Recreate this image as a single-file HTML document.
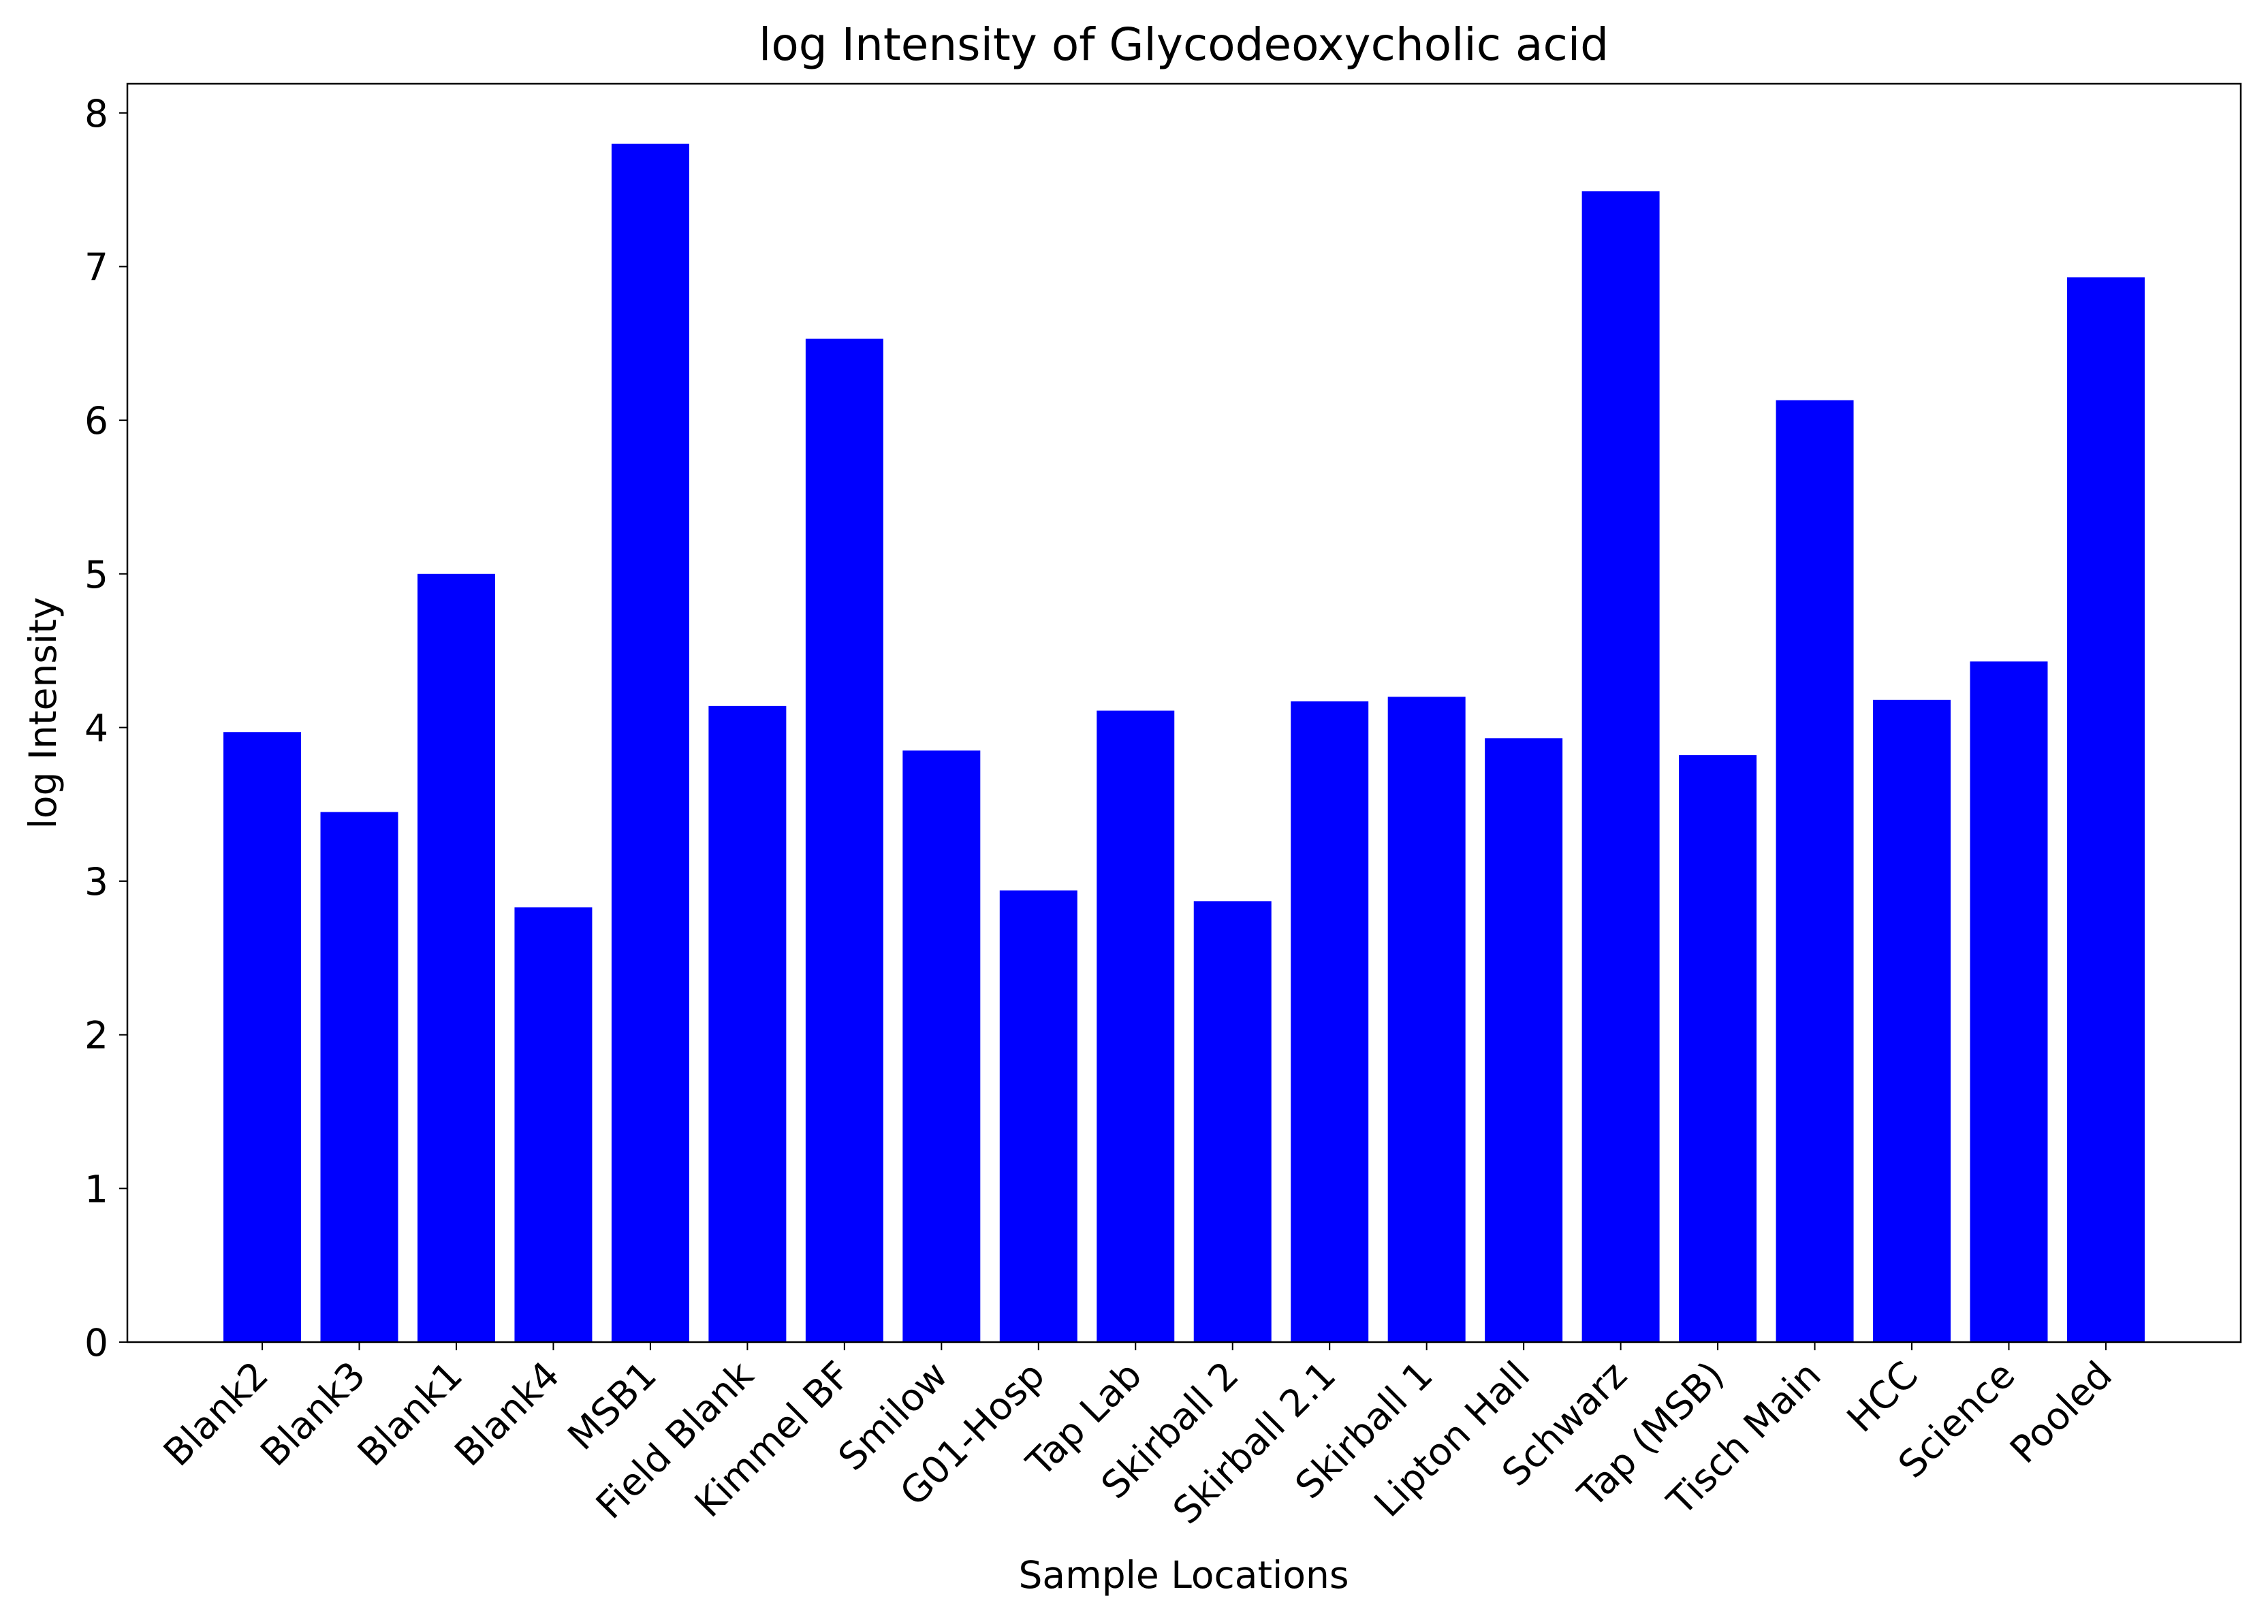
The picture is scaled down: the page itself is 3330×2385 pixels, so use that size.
<!DOCTYPE html>
<html><head><meta charset="utf-8"><style>body{margin:0;background:#fff}svg{display:block}text{font-family:"DejaVu Sans","Liberation Sans",sans-serif;fill:#000}</style></head>
<body>
<svg id="chart" width="3330" height="2385" viewBox="0 0 3330 2385" xmlns="http://www.w3.org/2000/svg">
<rect width="3330" height="2385" fill="#fff"/>
<g id="bars"></g>
<g id="axes"></g>
<text x="1738" y="88" font-size="66" text-anchor="middle">log Intensity of Glycodeoxycholic acid</text>
<text x="1738" y="2332" font-size="55" text-anchor="middle">Sample Locations</text>
<text x="0" y="0" font-size="55" text-anchor="middle" transform="translate(82,1047) rotate(-90)">log Intensity</text>
</svg>
<script>
const categories=["Blank2","Blank3","Blank1","Blank4","MSB1","Field Blank","Kimmel BF","Smilow","G01-Hosp","Tap Lab","Skirball 2","Skirball 2.1","Skirball 1","Lipton Hall","Schwarz","Tap (MSB)","Tisch Main","HCC","Science","Pooled"];
const values=[3.97,3.45,5.0,2.83,7.8,4.14,6.53,3.85,2.94,4.11,2.87,4.17,4.2,3.93,7.49,3.82,6.13,4.18,4.43,6.93];
const yTicks=[0,1,2,3,4,5,6,7,8];
const NS="http://www.w3.org/2000/svg";
const L=187,R=3290,T=123,B=1971;
const n=categories.length;
const xmin=-0.4-(n-0.2)*0.05, xmax=n-1+0.4+(n-0.2)*0.05;
const ymax=Math.max(...values)*1.05;
const xs=v=>L+(v-xmin)/(xmax-xmin)*(R-L);
const ys=v=>B-v/ymax*(B-T);
const bars=document.getElementById('bars'),axes=document.getElementById('axes');
function mk(tag,attrs,parent){const e=document.createElementNS(NS,tag);for(const k in attrs)e.setAttribute(k,attrs[k]);parent.appendChild(e);return e;}
values.forEach((v,i)=>{
  const r=mk('rect',{x:xs(i-0.4),y:ys(v),width:xs(i+0.4)-xs(i-0.4),height:B-ys(v),fill:'#0000ff'},bars);
  
  
});
const frame=mk('rect',{x:L,y:T,width:R-L,height:B-T,fill:'none',stroke:'#000','stroke-width':2.5},axes);


yTicks.forEach(t=>{
  const y=ys(t);
  const ln=mk('line',{x1:L-12,x2:L,y1:y,y2:y,stroke:'#000','stroke-width':2},axes);
  
  
  const tx=mk('text',{x:L-28,y:y+20,'font-size':55,'text-anchor':'end'},axes);
  tx.textContent=t;
  
  
});
categories.forEach((c,i)=>{
  const x=xs(i);
  const ln=mk('line',{x1:x,x2:x,y1:B,y2:B+12,stroke:'#000','stroke-width':2},axes);
  
  
  const tx=mk('text',{x:0,y:0,'font-size':55,'text-anchor':'end',transform:`translate(${x+12},${B+52}) rotate(-45)`},axes);
  tx.textContent=c;
  
  
});
</script>
</body></html>
